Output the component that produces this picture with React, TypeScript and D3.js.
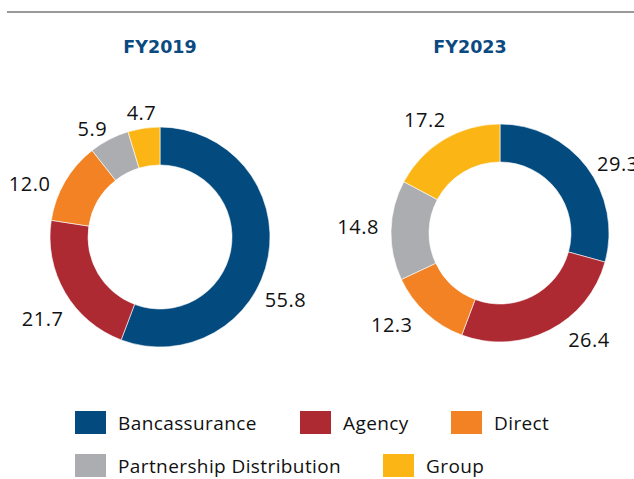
import React from "react";
import * as d3 from "d3";

const categories = ["Bancassurance", "Agency", "Direct", "Partnership Distribution", "Group"];
const colors = ["#034a7f", "#ad2a32", "#f28223", "#acadb0", "#fbb616"];
const years = ["FY2019", "FY2023"];
const values2019 = [55.8, 21.7, 12.0, 5.9, 4.7];
const values2023 = [29.3, 26.4, 12.3, 14.8, 17.2];
const labels2019 = ["55.8", "21.7", "12.0", "5.9", "4.7"];
const labels2023 = ["29.3", "26.4", "12.3", "14.8", "17.2"];

// label placement tweaks (degrees, px)
const angleNudge2019 = [16, -4.5, -8, -4.4, 0];
const radius2019 = [140, 143, 141, 128, 126];
const angleNudge2023 = [6.6, -12.8, 7, 1, -2.6];
const radius2023 = [137, 139, 142, 142, 136];

const W = 634;
const H = 479;
const LABEL_FONT = "'Open Sans', sans-serif";

type DonutProps = {
  cx: number;
  cy: number;
  titleX: number;
  outer: number;
  inner: number;
  values: number[];
  labels: string[];
  nudge: number[];
  radii: number[];
  title: string;
};

function Donut({ cx, cy, titleX, outer, inner, values, labels, nudge, radii, title }: DonutProps) {
  const pie = d3.pie<number>().sort(null).value((d) => d)(values);
  const arc = d3.arc<d3.PieArcDatum<number>>().innerRadius(inner).outerRadius(outer);
  return (
    <g>
      <text
        x={titleX}
        y={47}
        textAnchor="middle"
        dominantBaseline="central"
        fontFamily="'DejaVu Sans', sans-serif"
        fontWeight={700}
        fontSize={17.5}
        fill="#0b4a80"
      >
        {title}
      </text>
      <g transform={`translate(${cx},${cy})`}>
        {pie.map((p, i) => (
          <path key={i} d={arc(p) || ""} fill={colors[i]} stroke="#ffffff" strokeWidth={0.6} />
        ))}
        {pie.map((p, i) => {
          const mid = (p.startAngle + p.endAngle) / 2 + (nudge[i] * Math.PI) / 180;
          const r = radii[i];
          const x = Math.sin(mid) * r;
          const y = -Math.cos(mid) * r;
          return (
            <text
              key={"l" + i}
              x={x}
              y={y}
              textAnchor="middle"
              dominantBaseline="central"
              fontFamily={LABEL_FONT}
              fontSize={20}
              letterSpacing={0.5}
              fill="#111"
            >
              {labels[i]}
            </text>
          );
        })}
      </g>
    </g>
  );
}

export default function App() {
  const legendRows = [
    [0, 1, 2],
    [3, 4],
  ];
  const legendX = [
    [75, 300, 451],
    [75, 383],
  ];
  const legendY = [422.5, 465.5];
  return (
    <svg
      width={W}
      height={H}
      style={{ position: "absolute", left: 0, top: 0, background: "#fff" }}
    >
      <line x1={7} x2={W} y1={12} y2={12} stroke="#777" strokeWidth={1.5} />
      <Donut
        cx={160}
        cy={237}
        titleX={160}
        outer={110}
        inner={72}
        values={values2019}
        labels={labels2019}
        nudge={angleNudge2019}
        radii={radius2019}
        title={years[0]}
      />
      <Donut
        cx={500}
        cy={233}
        titleX={470}
        outer={109}
        inner={71}
        values={values2023}
        labels={labels2023}
        nudge={angleNudge2023}
        radii={radius2023}
        title={years[1]}
      />
      {legendRows.map((row, ri) =>
        row.map((ci, k) => (
          <g key={ci} transform={`translate(${legendX[ri][k]},${legendY[ri]})`}>
            <rect x={0} y={-11.5} width={31} height={23} fill={colors[ci]} />
            <text
              x={43}
              y={0}
              dominantBaseline="central"
              fontFamily={LABEL_FONT}
              fontSize={19}
              letterSpacing={0.4}
              fill="#111"
            >
              {categories[ci]}
            </text>
          </g>
        ))
      )}
    </svg>
  );
}
